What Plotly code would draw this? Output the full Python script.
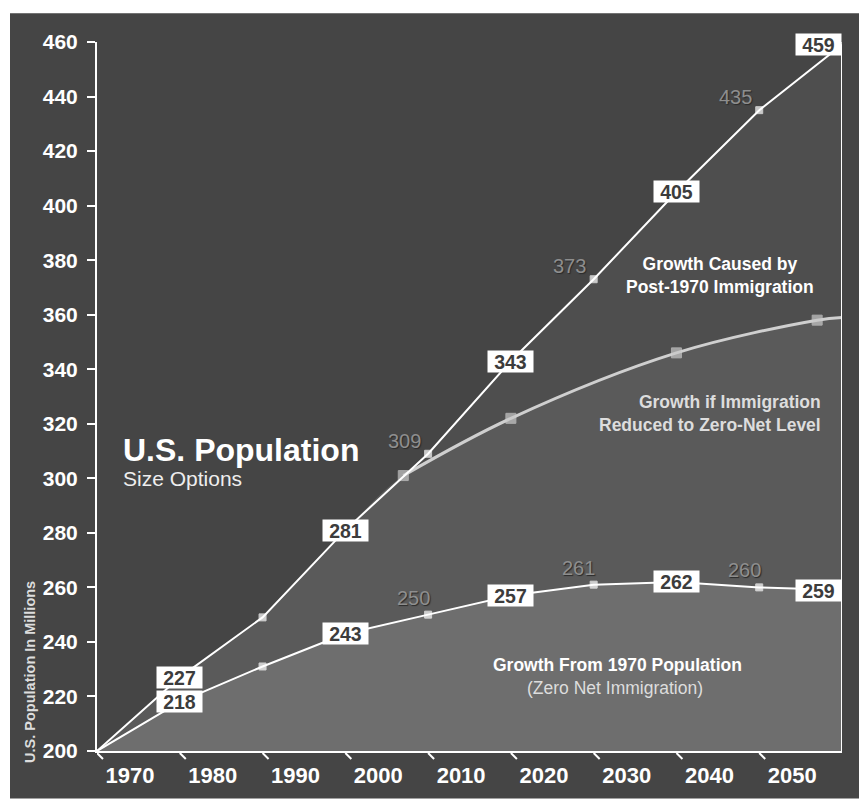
import plotly.graph_objects as go

# ---------------- data ----------------
years = [1970, 1980, 1990, 2000, 2010, 2020, 2030, 2040, 2050, 2060]
pop_with_immigration = [200, 227, 249, 281, 309, 343, 373, 405, 435, 459]
pop_from_1970 = [200, 218, 231, 243, 250, 257, 261, 262, 260, 259]
zero_net_years = [2007, 2020, 2040, 2057, 2060]
pop_zero_net = [301, 322, 346, 358, 359]
boxed_years = [1980, 2000, 2020, 2040, 2060]
plain_years = [2010, 2030, 2050]
tick_years = [1970, 1980, 1990, 2000, 2010, 2020, 2030, 2040, 2050]
y_ticks = list(range(200, 461, 20))

# ---------------- layout geometry ----------------
W, H = 859, 800
ML, MR, MT, MB = 97, 17, 42, 43
PW, PH = W - ML - MR, H - MT - MB

def px_x(px):
    return (px - ML) / PW

def px_y(py):
    return (H - MB - py) / PH

FONT = "Liberation Sans, Arial, sans-serif"
C_PANEL = "#454545"
C_TOP = "#414141"
C_AB = "#4e4e4e"
C_BC = "#5a5a5a"
C_LOW = "#6e6e6e"

fig = go.Figure()

# middle envelope: immigration line up to junction, then zero-net line
mid_x = [y for y in years if y < zero_net_years[0]] + zero_net_years
mid_y = [v for y, v in zip(years, pop_with_immigration) if y < zero_net_years[0]] + pop_zero_net

fig.add_trace(go.Scatter(x=years, y=pop_with_immigration, fill="tozeroy",
                         fillcolor=C_AB, mode="none", hoverinfo="skip"))
fig.add_trace(go.Scatter(x=mid_x, y=mid_y, fill="tozeroy", line_shape="spline",
                         fillcolor=C_BC, mode="none", hoverinfo="skip"))
fig.add_trace(go.Scatter(x=years, y=pop_from_1970, fill="tozeroy",
                         fillcolor=C_LOW, mode="none", hoverinfo="skip"))

# lines
fig.add_trace(go.Scatter(
    x=zero_net_years, y=pop_zero_net, mode="lines+markers", line_shape="spline",
    line=dict(color="#cfcfcf", width=3),
    marker=dict(symbol="square", color="#c8c8c8",
                size=[10 if y != zero_net_years[-1] else 0 for y in zero_net_years]),
    hoverinfo="skip"))
for series in (pop_with_immigration, pop_from_1970):
    fig.add_trace(go.Scatter(
        x=years, y=series, mode="lines+markers",
        line=dict(color="white", width=2),
        marker=dict(symbol="square", color="white",
                    size=[0 if y == years[0] else 7 for y in years]),
        hoverinfo="skip"))

annotations = []
# boxed labels
for series in (pop_with_immigration, pop_from_1970):
    for yr, v in zip(years, series):
        if yr in boxed_years:
            annotations.append(dict(
                x=yr, y=v, xref="x", yref="y", text=f"<b>{v}</b>", showarrow=False,
                xanchor="right" if yr == years[-1] else "center", yanchor="middle",
                bgcolor="white", borderpad=0, width=45, height=21,
                font=dict(family=FONT, size=19.5, color="#3c3c3c")))
# plain grey labels
for series, dx, dy in ((pop_with_immigration, -24, 13), (pop_from_1970, -15, 17)):
    for yr, v in zip(years, series):
        if yr in plain_years:
            annotations.append(dict(
                x=yr, y=v, xref="x", yref="y", text=str(v), showarrow=False,
                xshift=dx, yshift=dy,
                font=dict(family=FONT, size=20, color="#8e8e8e",
                          shadow="1px 1px 1px #2a2a2a")))

def txt(text, px, py, size, xanchor="left", weight="normal", color="white", align="left"):
    annotations.append(dict(
        x=px_x(px), y=px_y(py), xref="paper", yref="paper", text=text,
        showarrow=False, xanchor=xanchor, yanchor="middle", align=align,
        font=dict(family=FONT, size=size, color=color, weight=weight)))

txt("U.S. Population", 121, 453, 32, weight="bold")
txt("Size Options", 121, 482, 21, color="#eeeeee")
txt("Growth Caused by<br>Post-1970 Immigration", 720, 277, 17.5, xanchor="center",
    weight="bold", align="center")
txt("Growth if Immigration<br>Reduced to Zero-Net Level", 823, 417, 17.5, xanchor="right",
    weight="bold", color="#dddddd", align="right")
txt("Growth From 1970 Population", 617, 670, 17.5, xanchor="center", weight="bold")
txt("(Zero Net Immigration)", 615, 693, 17.5, xanchor="center", color="#dddddd")

# rotated y-axis title
annotations.append(dict(
    x=px_x(30), y=px_y(771), xref="paper", yref="paper",
    text="<b>U.S. Population In Millions</b>", textangle=-90, showarrow=False,
    xanchor="center", yanchor="bottom",
    font=dict(family=FONT, size=14.5, color="#dddddd")))

shapes = [
    # dark panel
    dict(type="rect", xref="paper", yref="paper", layer="below",
         x0=px_x(10), x1=px_x(W + 5), y0=px_y(13), y1=px_y(H + 5),
         fillcolor=C_PANEL, line=dict(width=0)),
    # right edge of filled area
    dict(type="line", xref="x", yref="y", x0=years[-1], x1=years[-1],
         y0=y_ticks[0], y1=pop_with_immigration[-1], line=dict(color="white", width=2)),
]
# diagonal x ticks
for yr in tick_years:
    shapes.append(dict(type="line", xref="x", yref="paper",
                       xsizemode="pixel", ysizemode="pixel",
                       xanchor=yr, yanchor=0,
                       x0=0, x1=6, y0=-2, y1=-8,
                       line=dict(color="white", width=2)))

fig.update_layout(
    width=W, height=H,
    margin=dict(l=ML, r=MR, t=MT, b=MB, pad=0),
    paper_bgcolor="white", plot_bgcolor=C_TOP,
    showlegend=False,
    annotations=annotations, shapes=shapes,
    xaxis=dict(range=[years[0], years[-1]], tickvals=tick_years,
               ticktext=[str(t) for t in tick_years], ticks="", showgrid=False,
               zeroline=False, showline=True, linecolor="white", linewidth=2,
               ticklabelshift=33, ticklabelstandoff=4,
               tickfont=dict(family=FONT, size=22, color="white", weight="bold")),
    yaxis=dict(range=[y_ticks[0], y_ticks[-1]], tickvals=y_ticks, ticks="outside",
               ticklen=8, tickwidth=2, tickcolor="white", showgrid=False,
               zeroline=False, showline=True, linecolor="white", linewidth=2,
               ticklabelstandoff=5,
               tickfont=dict(family=FONT, size=21, color="white", weight="bold")),
)

fig.write_html("out.html")
